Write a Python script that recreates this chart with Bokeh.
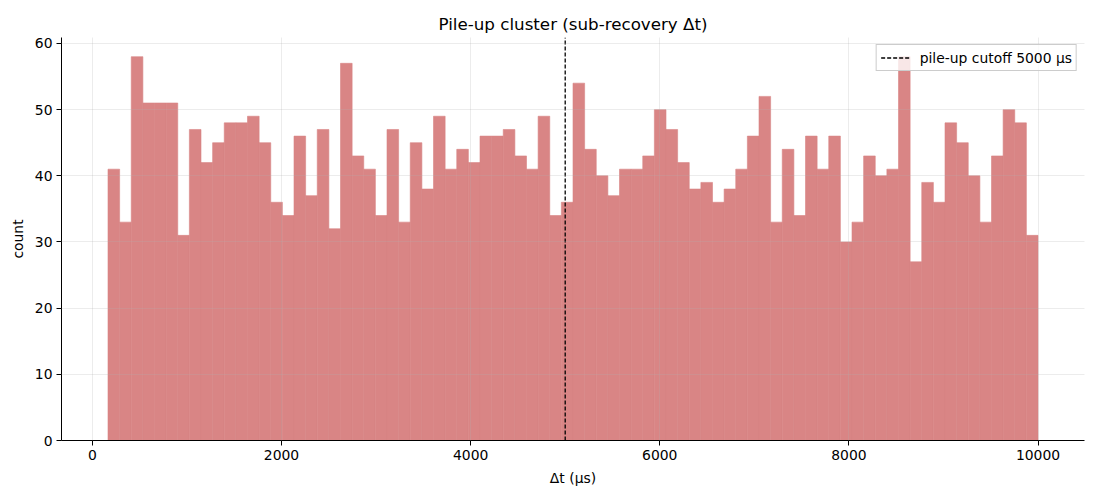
import numpy as np
from bokeh.plotting import figure
from bokeh.models import Range1d, FixedTicker, ColumnDataSource
from bokeh.embed import file_html
from bokeh.resources import INLINE

# ---- data ----
counts = [41, 33, 58, 51, 51, 51, 31, 47, 42, 45, 48, 48, 49, 45, 36, 34, 46, 37, 47, 32,
          57, 43, 41, 34, 47, 33, 45, 38, 49, 41, 44, 42, 46, 46, 47, 43, 41, 49, 34, 36,
          54, 44, 40, 37, 41, 41, 43, 50, 47, 42, 38, 39, 36, 38, 41, 46, 52, 33, 44, 34,
          46, 41, 46, 30, 33, 43, 40, 41, 58, 27, 39, 36, 48, 45, 40, 33, 43, 50, 48, 31]
dt_min = 165.0
dt_max = 10000.0
cutoff = 5000
x_ticks = [0, 2000, 4000, 6000, 8000, 10000]
y_ticks = [0, 10, 20, 30, 40, 50, 60]

edges = np.linspace(dt_min, dt_max, len(counts) + 1)
src = ColumnDataSource(dict(left=edges[:-1], right=edges[1:], top=counts,
                            bottom=[0] * len(counts)))

span = dt_max - dt_min
ymax = max(counts) * 1.05

FONT = "DejaVu Sans"
BAR = "#d98585"
p = figure(width=1092, height=492, frame_width=1023, frame_height=403,
           output_backend="svg", toolbar_location=None,
           x_range=Range1d(dt_min - 0.05 * span, dt_max + 0.05 * span),
           y_range=Range1d(0, ymax),
           min_border_left=61, min_border_right=8, min_border_top=37, min_border_bottom=52,
           title="Pile-up cluster (sub-recovery Δt)")
p.title.align = "center"
p.title.text_font = FONT
p.title.text_font_size = "16.7px"
p.title.text_font_style = "normal"
p.title.text_color = "black"
p.title.offset = 0
p.title.standoff = 8

p.quad(left="left", right="right", top="top", bottom="bottom", source=src,
       fill_color=BAR, fill_alpha=1.0, line_color=BAR, line_width=0.6)

p.line(x=[cutoff, cutoff], y=[0, ymax], line_color="black", line_width=1.3,
       line_dash="4 2", legend_label="pile-up cutoff 5000 µs")

p.outline_line_color = None
for ax in (p.xaxis[0], p.yaxis[0]):
    ax.axis_line_color = "black"
    ax.axis_line_width = 1
    ax.major_tick_line_color = "black"
    ax.major_tick_out = 5
    ax.major_tick_in = 0
    ax.minor_tick_line_color = None
    ax.major_label_text_font = FONT
    ax.major_label_text_font_size = "13.9px"
    ax.major_label_text_color = "black"
    ax.axis_label_text_font = FONT
    ax.axis_label_text_font_size = "13.9px"
    ax.axis_label_text_font_style = "normal"
    ax.axis_label_text_color = "black"

p.xaxis.ticker = FixedTicker(ticks=x_ticks)
p.yaxis.ticker = FixedTicker(ticks=y_ticks)
p.xaxis.axis_label = "Δt (µs)"
p.yaxis.axis_label = "count"
p.xaxis.major_label_standoff = 4
p.yaxis.major_label_standoff = 4
p.xaxis.axis_label_standoff = 7
p.yaxis.axis_label_standoff = 6

p.grid.grid_line_color = "#b0b0b0"
p.grid.grid_line_alpha = 0.3
p.grid.grid_line_width = 0.8
p.grid.level = "overlay"
p.xgrid.ticker = FixedTicker(ticks=x_ticks)
p.ygrid.ticker = FixedTicker(ticks=y_ticks)

p.legend.location = "top_right"
p.legend.label_text_font = FONT
p.legend.label_text_font_size = "13.9px"
p.legend.label_text_color = "black"
p.legend.border_line_color = "#cccccc"
p.legend.border_line_alpha = 1
p.legend.background_fill_alpha = 0.8
p.legend.margin = 7
p.legend.padding = 4
p.legend.spacing = 0
p.legend.glyph_width = 30
p.legend.glyph_height = 17
p.legend.label_height = 17
p.legend.label_standoff = 9

open("out.html", "w").write(file_html(p, INLINE))
